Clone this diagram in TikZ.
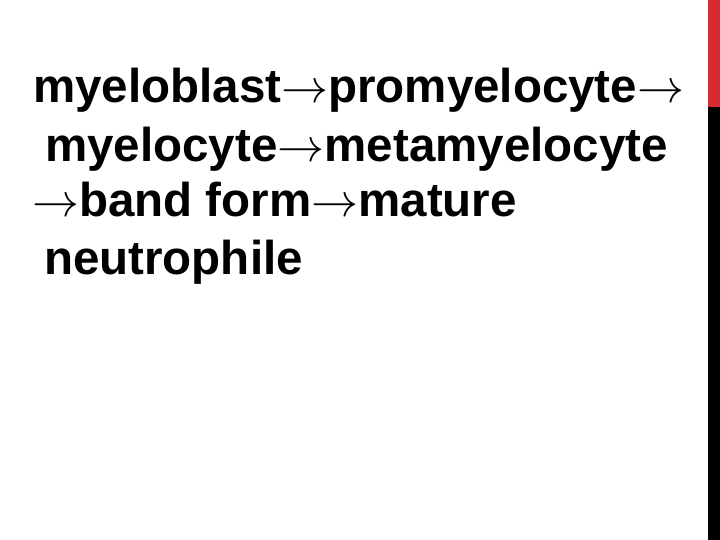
\documentclass[tikz,border=0pt]{standalone}
\usepackage{fontspec}
\setmainfont{Liberation Sans}
\newcommand{\arr}{\scalebox{4.7}{\fontsize{10}{12}\selectfont$\rightarrow$}}
\begin{document}
\begin{tikzpicture}[x=1pt,y=-1pt,
  txt/.style={anchor=base west,inner sep=0pt,font=\fontsize{47.5}{55}\selectfont\bfseries}]
\useasboundingbox (0,0) rectangle (720,540);
\fill[white] (0,0) rectangle (720,540);
\fill[fill={rgb,255:red,213;green,43;blue,50}] (708,0) rectangle (720,107);
\fill[black] (708,107) rectangle (720,540);
\node[txt] (l1) at (33,103) {myeloblast\arr promyelocyte\arr};
\node[txt] (l2) at (45,162) {myelocyte\arr metamyelocyte};
\node[txt] (l3) at (32,216) {\arr band form\arr mature};
\node[txt] (l4) at (44,274) {neutrophile};
\end{tikzpicture}
\end{document}
